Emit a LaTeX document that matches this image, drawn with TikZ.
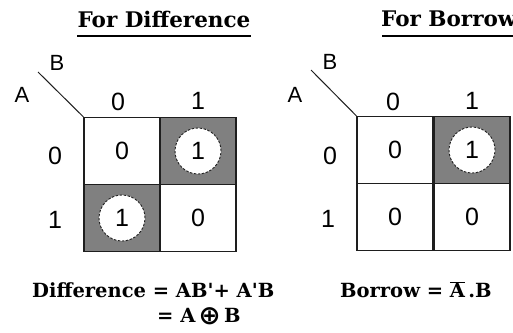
\documentclass[tikz,border=0pt]{standalone}
\usepackage{fontspec}
\setmainfont{Liberation Sans}
\newfontfamily\slabfont{DejaVu Serif}
\newfontfamily\symfont{DejaVu Sans}
\usepackage{tikz}
\usetikzlibrary{positioning}
\definecolor{kgray}{RGB}{128,128,128}
\definecolor{kline}{RGB}{30,30,30}

\tikzset{
 cell/.style={draw=kline,line width=1.2pt,minimum width=76pt,minimum height=67pt,
  inner sep=0pt,font=\fontsize{25}{25}\selectfont},
 ring/.style={circle,draw=kline,dashed,dash pattern=on 2.5pt off 1.5pt,line width=0.9pt,
  fill=white,minimum size=46pt,inner sep=0pt,font=\fontsize{25}{25}\selectfont},
 lab/.style={font=\fontsize{25}{25}\selectfont,inner sep=0pt},
 var/.style={font=\fontsize{22}{22}\selectfont,inner sep=0pt},
 title/.style={font=\slabfont\bfseries\fontsize{21.5}{21.5}\selectfont,inner sep=0pt},
 eqn/.style={font=\slabfont\bfseries\fontsize{19.5}{19.5}\selectfont,inner sep=0pt}
}

\begin{document}
\begin{tikzpicture}[x=1pt,y=-1pt]
\useasboundingbox (0,0) rectangle (513,332);

% difference map
\node[title] (tdiff) at (164,19) {For Difference};
\draw[line width=1.2pt] (77,36) -- (251,36);
\node[cell] (d00) at (122,151) {0};
\node[cell,fill=kgray] (d01) at (198,151) {};
\node[cell,fill=kgray] (d10) at (122,218) {};
\node[cell] (d11) at (198,218) {0};
\node[ring] (r01) at (d01) {1};
\node[ring] (r10) at (d10) {1};
\coordinate (dtip) at (38,72);
\draw[kline,line width=1pt] (dtip) -- (d00.north west);
\node[var] (dB) at (57,63) {B};
\node[var] (dA) at (22,95) {A};
\node[lab] (dc0) at (118,102) {0};
\node[lab] (dc1) at (198,101) {1};
\node[lab] (dr0) at (55,156) {0};
\node[lab] (dr1) at (55,220) {1};
\node[eqn,anchor=west] (ediff) at (32,290) {Difference = AB'+ A'B};
\node[eqn,anchor=west] (exor) at (157,316)
 {= A\,\raisebox{-1.5pt}{\scalebox{1.35}{\symfont ⊕}}\,B};

% borrow map
\node[title,anchor=west] (tbor) at (381,19) {For Borrow};
\draw[line width=1.2pt] (382,36) -- (513,36);
\node[cell] (b00) at (395,150) {0};
\node[cell,fill=kgray] (b01) at (472,150) {};
\node[cell] (b10) at (395,217) {0};
\node[cell] (b11) at (472,217) {0};
\node[ring] (r11) at (b01) {1};
\coordinate (btip) at (311,70);
\draw[kline,line width=1pt] (btip) -- (b00.north west);
\node[var] (bB) at (330,62) {B};
\node[var] (bA) at (295,95) {A};
\node[lab] (bc0) at (393,102) {0};
\node[lab] (bc1) at (472,101) {1};
\node[lab] (br0) at (330,156) {0};
\node[lab] (br1) at (328,219) {1};
\node[eqn,anchor=west] (ebor) at (340,290) {Borrow = $\overline{\mbox{A}}$\,.B};
\end{tikzpicture}
\end{document}
